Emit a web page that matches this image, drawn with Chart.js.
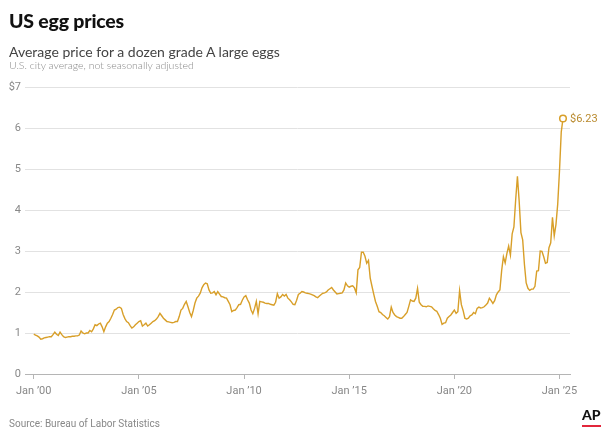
<!DOCTYPE html>
<html>
<head>
<meta charset="utf-8">
<script src="https://cdn.jsdelivr.net/npm/chart.js@4"></script>
<style>
  body { margin: 0; background: #fff; }
  #wrap { position: relative; width: 605px; height: 438px; overflow: hidden; }
  #chart { position: absolute; left: 0; top: 0; }
  .t { position: absolute; left: 9px; white-space: nowrap; font-family: Lato, "Noto Sans", sans-serif; }
  #title { top: 9px; font-size: 19.5px; font-weight: 900; color: #111; letter-spacing: -0.2px; }
  #sub { top: 43px; font-size: 14px; color: #444; }
  #note { top: 59px; font-size: 10.5px; font-weight: 300; color: #888; }
  #source { top: 418px; font-size: 10px; color: #888; font-family: "Liberation Sans Narrow", Roboto, sans-serif; }
  #ap { position: absolute; left: 582px; top: 406px; font-family: Lato, sans-serif; font-weight: 900; font-size: 14px; color: #111; }
  #ap:after { content: ""; position: absolute; left: 0; right: 0; top: 19px; height: 2px; background: #e2263b; }
</style>
</head>
<body>
<div id="wrap">
  <canvas id="chart" width="605" height="438"></canvas>
  <div class="t" id="title">US egg prices</div>
  <div class="t" id="sub">Average price for a dozen grade A large eggs</div>
  <div class="t" id="note">U.S. city average, not seasonally adjusted</div>
  <div class="t" id="source">Source: Bureau of Labor Statistics</div>
  <div id="ap">AP</div>
</div>
<script>
  // monthly average price, $ per dozen, Jan 2000 - Mar 2025
  const y2000 = [0.97, 0.95, 0.93, 0.90, 0.85, 0.86, 0.88, 0.89, 0.90, 0.91, 0.91, 0.96];
  const y2001 = [1.02, 0.97, 0.94, 1.02, 0.96, 0.91, 0.89, 0.90, 0.91, 0.91, 0.92, 0.92];
  const y2002 = [0.93, 0.93, 0.95, 1.05, 1.00, 0.98, 1.00, 1.00, 1.06, 1.03, 1.10, 1.20];
  const y2003 = [1.18, 1.22, 1.24, 1.15, 1.03, 1.15, 1.24, 1.28, 1.36, 1.45, 1.56, 1.58];
  const y2004 = [1.62, 1.63, 1.60, 1.45, 1.35, 1.28, 1.25, 1.18, 1.12, 1.15, 1.20, 1.24];
  const y2005 = [1.28, 1.30, 1.17, 1.20, 1.24, 1.17, 1.20, 1.24, 1.28, 1.30, 1.34, 1.40];
  const y2006 = [1.48, 1.42, 1.36, 1.32, 1.28, 1.27, 1.26, 1.25, 1.26, 1.28, 1.28, 1.40];
  const y2007 = [1.56, 1.60, 1.70, 1.77, 1.64, 1.50, 1.40, 1.55, 1.73, 1.85, 1.90, 1.97];
  const y2008 = [2.10, 2.18, 2.22, 2.20, 2.05, 1.97, 1.98, 2.01, 1.93, 2.01, 1.95, 1.89];
  const y2009 = [1.88, 1.86, 1.85, 1.77, 1.69, 1.52, 1.55, 1.56, 1.62, 1.69, 1.70, 1.80];
  const y2010 = [1.88, 1.91, 1.81, 1.73, 1.56, 1.47, 1.60, 1.77, 1.47, 1.77, 1.76, 1.75];
  const y2011 = [1.73, 1.72, 1.72, 1.70, 1.69, 1.68, 1.75, 1.96, 1.85, 1.88, 1.94, 1.90];
  const y2012 = [1.94, 1.85, 1.81, 1.76, 1.70, 1.69, 1.80, 1.94, 1.97, 2.01, 2.00, 1.98];
  const y2013 = [1.97, 1.96, 1.95, 1.93, 1.91, 1.88, 1.86, 1.90, 1.94, 1.97, 1.98, 2.00];
  const y2014 = [2.05, 2.08, 2.11, 2.05, 2.00, 1.95, 1.96, 1.97, 1.98, 2.05, 2.22, 2.15];
  const y2015 = [2.12, 2.14, 2.15, 2.10, 1.98, 2.54, 2.60, 2.97, 2.97, 2.87, 2.70, 2.77];
  const y2016 = [2.34, 2.14, 1.95, 1.77, 1.65, 1.52, 1.50, 1.45, 1.42, 1.38, 1.34, 1.40];
  const y2017 = [1.63, 1.50, 1.44, 1.40, 1.38, 1.36, 1.36, 1.40, 1.45, 1.50, 1.65, 1.81];
  const y2018 = [1.78, 1.77, 1.85, 2.09, 1.75, 1.69, 1.65, 1.65, 1.64, 1.66, 1.65, 1.64];
  const y2019 = [1.59, 1.55, 1.53, 1.45, 1.36, 1.21, 1.24, 1.25, 1.36, 1.40, 1.44, 1.50];
  const y2020 = [1.56, 1.48, 1.52, 2.03, 1.69, 1.55, 1.36, 1.34, 1.36, 1.42, 1.44, 1.50];
  const y2021 = [1.47, 1.60, 1.63, 1.61, 1.62, 1.64, 1.68, 1.73, 1.85, 1.79, 1.72, 1.79];
  const y2022 = [1.93, 2.00, 2.05, 2.52, 2.86, 2.71, 2.94, 3.12, 2.90, 3.42, 3.59, 4.25];
  const y2023 = [4.82, 4.21, 3.45, 3.27, 2.67, 2.22, 2.09, 2.04, 2.07, 2.07, 2.14, 2.51];
  const y2024 = [2.52, 3.00, 2.99, 2.86, 2.70, 2.72, 3.08, 3.20, 3.82, 3.37, 3.65, 4.15];
  const y2025 = [4.95, 5.90, 6.23];

  const tickMonths = [0, 60, 120, 180, 240, 300];
  const tickLabels = ["Jan \u201900", "Jan \u201905", "Jan \u201910", "Jan \u201915", "Jan \u201920", "Jan \u201925"];
  const yTicks = [0, 1, 2, 3, 4, 5, 6, 7];

  const prices = [].concat(y2000, y2001, y2002, y2003, y2004, y2005, y2006, y2007, y2008,
    y2009, y2010, y2011, y2012, y2013, y2014, y2015, y2016, y2017, y2018, y2019,
    y2020, y2021, y2022, y2023, y2024, y2025);
  const points = prices.map((v, i) => ({ x: i, y: v }));
  const last = points.length - 1;

  const lineColor = "#d89f29";

  const endLabel = {
    id: "endLabel",
    afterDatasetsDraw(chart) {
      const el = chart.getDatasetMeta(0).data[last];
      const c = chart.ctx;
      c.save();
      c.font = "11px 'Liberation Sans Narrow', Roboto, sans-serif";
      c.fillStyle = "#b98a2e";
      c.textAlign = "left";
      c.textBaseline = "middle";
      c.fillText("$" + prices[last].toFixed(2), el.x + 7, el.y + 1);
      c.restore();
    }
  };

  new Chart(document.getElementById("chart"), {
    type: "line",
    data: {
      datasets: [{
        data: points,
        borderColor: lineColor,
        borderWidth: 1.4,
        tension: 0,
        pointRadius: (ctx) => (ctx.dataIndex === last ? 3.3 : 0),
        pointBorderWidth: 1.5,
        pointBorderColor: lineColor,
        pointBackgroundColor: "#fff",
        clip: false
      }]
    },
    options: {
      responsive: false,
      animation: false,
      events: [],
      layout: { padding: { left: 0, right: 35, top: 87, bottom: 26 } },
      plugins: { legend: { display: false }, tooltip: { enabled: false } },
      scales: {
        x: {
          type: "linear",
          min: -5,
          max: 306,
          afterBuildTicks: (s) => { s.ticks = tickMonths.map((v) => ({ value: v })); },
          afterFit: (s) => { s.height = 38; },
          grid: { drawOnChartArea: false, drawTicks: true, tickLength: 5, color: "#b5b5b5" },
          border: { color: "#b5b5b5", width: 1 },
          ticks: {
            autoSkip: false,
            maxRotation: 0,
            padding: 6,
            color: "#888",
            font: { family: "'Liberation Sans Narrow', Roboto, sans-serif", size: 11 },
            callback: (v) => tickLabels[tickMonths.indexOf(v)]
          }
        },
        y: {
          min: 0,
          max: 7,
          afterBuildTicks: (s) => { s.ticks = yTicks.map((v) => ({ value: v })); },
          afterFit: (s) => { s.width = 25; },
          grid: { color: "#e2e2e2", drawTicks: false },
          border: { display: false },
          ticks: {
            padding: 4,
            color: "#888",
            font: { family: "'Liberation Sans Narrow', Roboto, sans-serif", size: 11 },
            callback: (v) => (v === 7 ? "$7" : String(v))
          }
        }
      }
    },
    plugins: [endLabel]
  });
</script>
</body>
</html>
